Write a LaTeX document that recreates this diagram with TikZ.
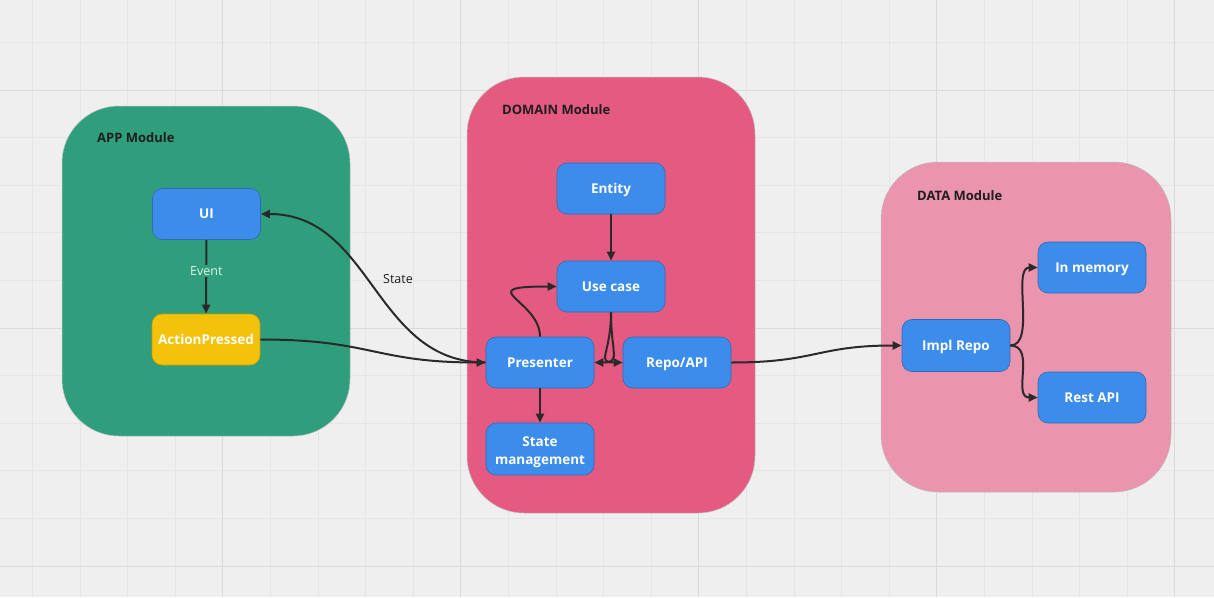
\documentclass[tikz,border=0pt]{standalone}
\usepackage{fontspec}
\setmainfont{Open Sans}
\usetikzlibrary{arrows.meta}
\definecolor{bg}{HTML}{EFEFEF}
\definecolor{gridminor}{HTML}{E5E5E5}
\definecolor{gridmajor}{HTML}{DADADA}
\definecolor{appgreen}{HTML}{2E9E7C}
\definecolor{domainpink}{HTML}{E55A80}
\definecolor{datapink}{HTML}{EA94AD}
\definecolor{nodeblue}{HTML}{3C8CEB}
\definecolor{nodeborder}{HTML}{2F6BB5}
\definecolor{actyellow}{HTML}{F5C20B}
\definecolor{actborder}{HTML}{C99C05}
\definecolor{linecol}{HTML}{2A2A2A}
\definecolor{labeldark}{HTML}{1E1E1E}
\definecolor{eventtext}{HTML}{E3F3EC}
\tikzset{
  module/.style={rounded corners=57pt, draw=black!25, line width=0.5pt, inner sep=0pt},
  modlabel/.style={anchor=west, text=labeldark, font=\bfseries\fontsize{13}{15}\selectfont, inner sep=0pt},
  box/.style={rectangle, rounded corners=10pt, fill=nodeblue, draw=nodeborder, line width=0.6pt,
    minimum width=108pt, minimum height=51pt, text=white, align=center,
    font=\bfseries\fontsize{13.5}{18}\selectfont, inner sep=0pt},
  oneline/.style={text height=9.7pt, text depth=0pt},
  conn/.style={draw=linecol, line width=2pt, -{Triangle[length=9pt,width=8pt]}},
}
\begin{document}
\begin{tikzpicture}[x=1pt,y=-1pt]
\useasboundingbox (0,0) rectangle (1214,597);
\fill[bg] (0,0) rectangle (1214,597);
% grid
\foreach \i in {0,...,25} {
  \pgfmathsetmacro\xx{32.4+47.6*\i}
  \draw[gridminor, line width=0.8pt] (\xx,0) -- (\xx,597);
}
\foreach \i in {0,...,12} {
  \pgfmathsetmacro\yy{42.4+47.6*\i}
  \draw[gridminor, line width=0.8pt] (0,\yy) -- (1214,\yy);
}
\foreach \i in {0,...,4} {
  \pgfmathsetmacro\xx{222.4+238*\i}
  \draw[gridmajor, line width=0.9pt] (\xx,0) -- (\xx,597);
}
\foreach \i in {0,...,2} {
  \pgfmathsetmacro\yy{90+238*\i}
  \draw[gridmajor, line width=0.9pt] (0,\yy) -- (1214,\yy);
}
% modules
\node[module, fill=appgreen, minimum width=288pt, minimum height=330pt] (app) at (206,271) {};
\node[module, fill=domainpink, minimum width=288pt, minimum height=436pt] (domain) at (611,295) {};
\node[module, fill=datapink, minimum width=290pt, minimum height=330pt] (data) at (1026,327) {};
\node[modlabel] (applbl) at (97,138) {APP Module};
\node[modlabel] (domlbl) at (502,110) {DOMAIN Module};
\node[modlabel] (datalbl) at (917,196) {DATA Module};
% nodes
\node[box, oneline] (ui) at (206.5,214) {UI};
\node[box, oneline, fill=actyellow, draw=actborder] (act) at (206,339.5) {ActionPressed};
\node[box, oneline] (ent) at (611,188.5) {Entity};
\node[box, oneline] (uc) at (611,286.5) {Use case};
\node[box, oneline] (pres) at (540,362.5) {Presenter};
\node[box, oneline] (repo) at (677,362.5) {Repo/API};
\node[box, minimum height=52pt] (sm) at (540,449) {\raisebox{-3pt}[\height][\depth]{\begin{tabular}{@{}c@{}}State\\management\end{tabular}}};
\node[box, oneline, minimum height=52pt] (impl) at (956,345.5) {Impl Repo};
\node[box, oneline] (mem) at (1092,267.5) {In memory};
\node[box, oneline] (rest) at (1092,397.5) {Rest API};
% connectors
\draw[conn] (ui) -- node[pos=0.42, fill=appgreen, text=eventtext, font=\fontsize{12.5}{15}\selectfont, inner sep=1.5pt] (evlbl) {Event} (act);
\draw[conn] (pres.west) .. controls +(-112,0) and +(112,0) .. (ui.east);
\node[text=labeldark, font=\fontsize{12.5}{15}\selectfont] (statelbl) at (398,279) {State};
\draw[conn] (act.east) .. controls +(112,0) and +(-112,0) .. (pres.west);
\draw[conn] (ent) -- (uc);
\draw[conn] (pres.north) .. controls +(0,-37) and +(-87,0) .. (uc.west);
\draw[conn] (uc.south) .. controls +(0,42) and +(27,0) .. (pres.east);
\draw[conn] (uc.south) .. controls +(0,42) and +(-27,0) .. (repo.west);
\draw[conn] (pres) -- (sm);
\draw[conn] (repo.east) .. controls +(85,0) and +(-85,0) .. (impl.west);
\draw[conn] (impl.east) .. controls +(26,0) and +(-26,0) .. (mem.west);
\draw[conn] (impl.east) .. controls +(26,0) and +(-26,0) .. (rest.west);
\end{tikzpicture}
\end{document}
